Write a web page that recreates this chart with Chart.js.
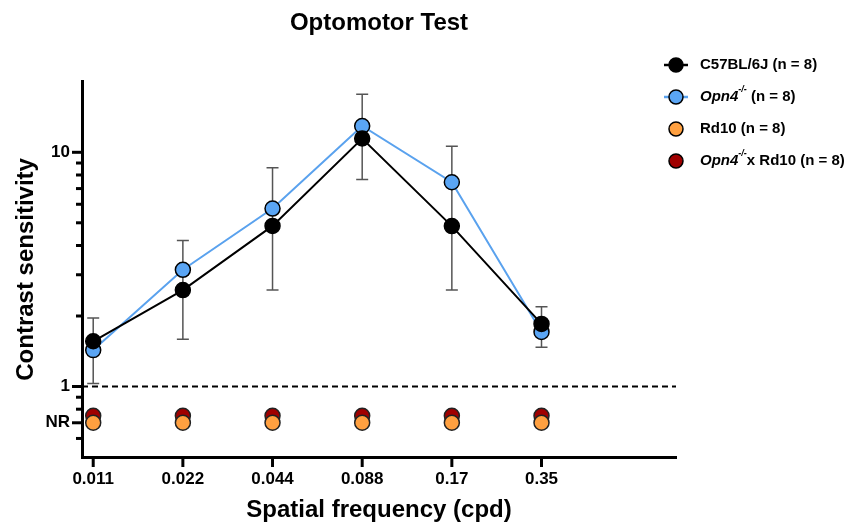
<!DOCTYPE html>
<html>
<head>
<meta charset="utf-8">
<script src="https://cdn.jsdelivr.net/npm/chart.js@4"></script>
<style>
    html, body { margin: 0; padding: 0; background: #fff; }
    #wrap { width: 846px; height: 525px; position: relative; }
</style>
</head>
<body>
<div id="wrap"><canvas id="optoChart" width="846" height="525"></canvas></div>
<script>
// spatial frequencies (cpd), placed at index 0..5 on the x axis
const freqLabels = ['0.011', '0.022', '0.044', '0.088', '0.17', '0.35'];

// contrast sensitivity
const wildType = [1.56, 2.58, 4.85, 11.45, 4.84, 1.85];
const opn4 = [1.43, 3.15, 5.75, 12.95, 7.45, 1.71];
// error bars (upper / lower end)
const errHigh = [1.96, 4.2, 8.6, 17.7, 10.6, 2.19];
const errLow = [1.03, 1.59, 2.58, 7.66, 2.58, 1.47];

// no response -> plotted on the NR row
const rd10 = [0.7, 0.7, 0.7, 0.7, 0.7, 0.7];
const opn4Rd10 = [0.75, 0.75, 0.75, 0.75, 0.75, 0.75];

const yTicks = [0.5, 0.6, 0.7, 0.8, 0.9, 1, 2, 3, 4, 5, 6, 7, 8, 9, 10, 20];
const yLabels = { 10: '10', 1: '1', 0.7: 'NR' };

const FONT = '"Liberation Sans", Arial, sans-serif';

function pts(arr) {
    return arr.map((v, i) => ({ x: i, y: v }));
}

// error bars, dashed "1" line and all tick marks
const extras = {
    id: 'extras',
    beforeDatasetsDraw(chart) {
        const ctx = chart.ctx;
        const x = chart.scales.x;
        const y = chart.scales.y;
        const area = chart.chartArea;

        ctx.save();
        // dashed threshold line at 1
        ctx.strokeStyle = '#000';
        ctx.lineWidth = 2;
        ctx.setLineDash([6, 4]);
        ctx.beginPath();
        ctx.moveTo(area.left, y.getPixelForValue(1));
        ctx.lineTo(area.right, y.getPixelForValue(1));
        ctx.stroke();
        ctx.setLineDash([]);

        // error bars
        ctx.strokeStyle = '#555';
        ctx.lineWidth = 1.5;
        for (let i = 0; i < errHigh.length; i++) {
            const px = x.getPixelForValue(i);
            const top = y.getPixelForValue(errHigh[i]);
            const bot = y.getPixelForValue(errLow[i]);
            ctx.beginPath();
            ctx.moveTo(px, top);
            ctx.lineTo(px, bot);
            ctx.moveTo(px - 6, top);
            ctx.lineTo(px + 6, top);
            ctx.moveTo(px - 6, bot);
            ctx.lineTo(px + 6, bot);
            ctx.stroke();
        }

        // y tick marks: long at labelled values, short otherwise
        ctx.strokeStyle = '#000';
        ctx.lineWidth = 3;
        yTicks.forEach(v => {
            if (v === 0.5 || v === 20) return;
            const py = y.getPixelForValue(v);
            const len = yLabels[v] ? 10 : 6;
            ctx.beginPath();
            ctx.moveTo(area.left - len, py);
            ctx.lineTo(area.left, py);
            ctx.stroke();
        });
        // x tick marks
        freqLabels.forEach((l, i) => {
            const px = x.getPixelForValue(i);
            ctx.beginPath();
            ctx.moveTo(px, area.bottom);
            ctx.lineTo(px, area.bottom + 10);
            ctx.stroke();
        });
        ctx.restore();
    },
    afterDraw(chart) {
        // legend with italic gene name and superscript
        const ctx = chart.ctx;
        const items = chart.data.datasets;
        const mx = 676, tx = 700;
        const y0 = 65, step = 32;
        ctx.save();
        items.forEach((ds, i) => {
            const cy = y0 + i * step;
            if (ds.showLine !== false) {
                ctx.strokeStyle = ds.borderColor;
                ctx.lineWidth = 2.5;
                ctx.beginPath();
                ctx.moveTo(mx - 12, cy);
                ctx.lineTo(mx + 12, cy);
                ctx.stroke();
            }
            ctx.beginPath();
            ctx.arc(mx, cy, 7, 0, Math.PI * 2);
            ctx.fillStyle = ds.pointBackgroundColor;
            ctx.fill();
            ctx.lineWidth = 1.5;
            ctx.strokeStyle = '#000';
            ctx.stroke();

            let cx = tx;
            ctx.fillStyle = '#000';
            ctx.textBaseline = 'middle';
            ds.legendParts.forEach(part => {
                const size = part.sup ? 9 : 15;
                ctx.font = (part.italic ? 'italic ' : '') + 'bold ' + size + 'px ' + FONT;
                ctx.fillText(part.text, cx, part.sup ? cy - 7 : cy);
                cx += ctx.measureText(part.text).width;
            });
        });
        ctx.restore();
    }
};

new Chart(document.getElementById('optoChart'), {
    type: 'line',
    data: {
        datasets: [
            {
                label: 'C57BL/6J (n = 8)',
                legendParts: [{ text: 'C57BL/6J (n = 8)' }],
                data: pts(wildType),
                borderColor: '#000',
                borderWidth: 2,
                pointBackgroundColor: '#000',
                pointBorderColor: '#000',
                pointBorderWidth: 1.5,
                pointRadius: 7.5
            },
            {
                label: 'Opn4-/- (n = 8)',
                legendParts: [{ text: 'Opn4', italic: true }, { text: '-/-', italic: true, sup: true }, { text: ' (n = 8)' }],
                data: pts(opn4),
                borderColor: '#5AA2EE',
                borderWidth: 2,
                pointBackgroundColor: '#5AA5F4',
                pointBorderColor: '#000',
                pointBorderWidth: 1.5,
                pointRadius: 7.5
            },
            {
                label: 'Rd10 (n = 8)',
                legendParts: [{ text: 'Rd10 (n = 8)' }],
                data: pts(rd10),
                showLine: false,
                borderColor: '#000',
                pointBackgroundColor: '#FFA040',
                pointBorderColor: '#222',
                pointBorderWidth: 1.5,
                pointRadius: 7.5
            },
            {
                label: 'Opn4-/- x Rd10 (n = 8)',
                legendParts: [{ text: 'Opn4', italic: true }, { text: '-/-', italic: true, sup: true }, { text: 'x Rd10 (n = 8)' }],
                data: pts(opn4Rd10),
                showLine: false,
                borderColor: '#000',
                pointBackgroundColor: '#A00000',
                pointBorderColor: '#222',
                pointBorderWidth: 1.5,
                pointRadius: 7.5
            }
        ]
    },
    options: {
        responsive: false,
        animation: false,
        layout: { padding: { left: 0, right: 170, top: 0, bottom: 0 } },
        plugins: {
            legend: { display: false },
            tooltip: { enabled: false },
            title: {
                display: true,
                text: 'Optomotor Test',
                fullSize: false,
                color: '#000',
                font: { family: FONT, size: 24, weight: 'bold' },
                padding: { top: 9, bottom: 44 }
            }
        },
        scales: {
            x: {
                type: 'linear',
                min: -0.125,
                max: 6.5,
                afterBuildTicks: s => { s.ticks = freqLabels.map((l, i) => ({ value: i })); },
                ticks: {
                    callback: v => freqLabels[v],
                    color: '#000',
                    padding: 12,
                    maxRotation: 0,
                    font: { family: FONT, size: 17, weight: 'bold' }
                },
                grid: { display: false, drawTicks: false },
                border: { color: '#000', width: 3 },
                title: {
                    display: true,
                    text: 'Spatial frequency (cpd)',
                    color: '#000',
                    font: { family: FONT, size: 24, weight: 'bold' },
                    padding: { top: 2, bottom: 0 }
                },
                afterFit: s => { s.height = 68; }
            },
            y: {
                type: 'logarithmic',
                min: 0.5,
                max: 20,
                afterBuildTicks: s => { s.ticks = yTicks.map(v => ({ value: v })); },
                ticks: {
                    autoSkip: false,
                    callback: v => yLabels[v] || '',
                    color: '#000',
                    padding: 12,
                    font: { family: FONT, size: 17, weight: 'bold' }
                },
                grid: { display: false, drawTicks: false },
                border: { color: '#000', width: 3 },
                title: {
                    display: true,
                    text: 'Contrast sensitivity',
                    color: '#000',
                    font: { family: FONT, size: 24, weight: 'bold' },
                    padding: { top: 12, bottom: 0 }
                },
                afterFit: s => { s.width = 82; }
            }
        }
    },
    plugins: [extras]
});
</script>
</body>
</html>
